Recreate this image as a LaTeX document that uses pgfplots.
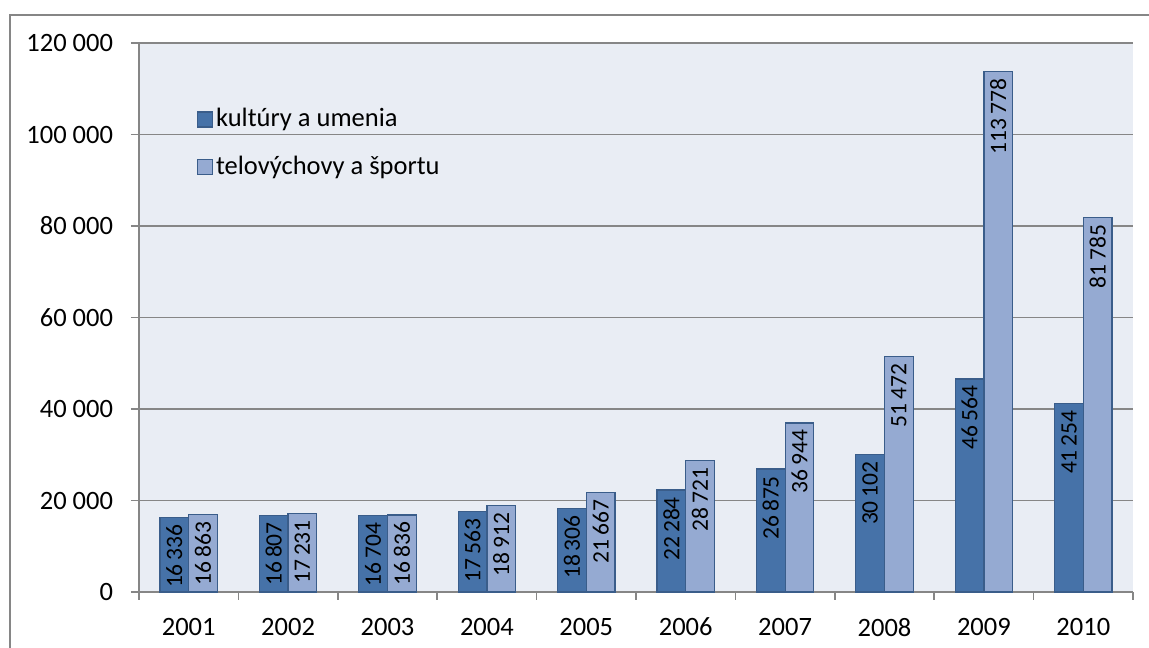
\documentclass[border=0pt]{standalone}
\usepackage{pgfplots}
\pgfplotsset{compat=1.18}
\usepackage{fontspec}
\setmainfont{Carlito}
\definecolor{darkbar}{RGB}{70,114,168}
\definecolor{lightbar}{RGB}{149,170,210}
\definecolor{barborder}{RGB}{58,93,138}
\definecolor{plotbg}{RGB}{233,237,244}
\definecolor{gridgray}{RGB}{134,134,134}
\begin{document}
\fontsize{26.5bp}{31bp}\selectfont
\begin{tikzpicture}
\begin{axis}[
  scale only axis, width=994bp, height=549bp,
  xmin=-0.5, xmax=9.5, ymin=0, ymax=120000,
  ybar=0pt, bar width=28.7bp,
  axis background/.style={fill=plotbg},
  axis x line*=bottom, axis y line*=left,
  axis line style={-, draw=gridgray, line width=1.5bp},
  xtick={0,...,9}, xticklabels={2001,2002,2003,2004,2005,2006,2007,2008,2009,2010},
  minor xtick={-0.5,0.5,...,9.5},
  ytick={0,20000,...,120000},
  ymajorgrids, grid style={draw=gridgray, line width=1.5bp},
  major x tick style={draw=none},
  tick style={draw=gridgray, line width=1.5bp},
  tick align=outside, major tick length=8bp, minor tick length=8bp,
  yticklabel style={xshift=-9bp},
  xticklabel style={yshift=-9bp},
  scaled y ticks=false,
  /pgf/number format/fixed, /pgf/number format/1000 sep={\ },
  /pgf/number format/assume math mode=true,
  nodes near coords={\pgfmathprintnumber[1000 sep={\hspace{4bp}}]{\pgfplotspointmeta}},
  every node near coord/.append style={rotate=90, anchor=east, inner sep=6.5bp, text=black,
    font=\fontsize{23.5bp}{27bp}\selectfont},
  clip=false,
  legend style={draw=none, fill=none, at={(0.058,0.885)}, anchor=north west,
    inner sep=0pt, row sep=21bp, nodes={inner xsep=3bp}},
  legend cell align=left,
  legend image code/.code={\draw[#1, line width=1.2bp] (0bp,-7.5bp) rectangle (15bp,7.5bp);},
]
\addplot[fill=darkbar, draw=barborder, line width=1.2bp] table[x=x,y=y] {
x y
0 16336
1 16807
2 16704
3 17563
4 18306
5 22284
6 26875
7 30102
8 46564
9 41254
};
\addplot[fill=lightbar, draw=barborder, line width=1.2bp] table[x=x,y=y] {
x y
0 16863
1 17231
2 16836
3 18912
4 21667
5 28721
6 36944
7 51472
8 113778
9 81785
};
\legend{kultúry a umenia, telovýchovy a športu}
\end{axis}
\draw[gridgray, line width=2bp] (-129bp,-56bp) -- (-129bp,577bp) -- (1010bp,577bp);
\pgfresetboundingbox
\path[use as bounding box] (-139bp,-56bp) rectangle (1010bp,592bp);
\end{tikzpicture}
\end{document}
